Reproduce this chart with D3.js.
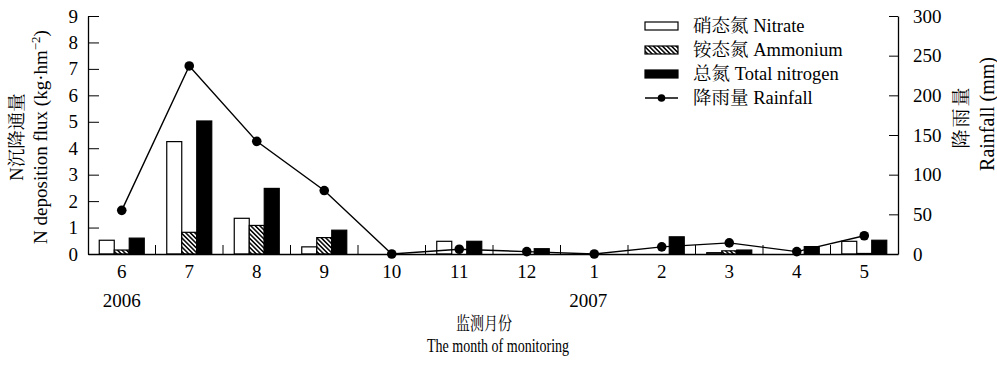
<!DOCTYPE html>
<html>
<head>
<meta charset="utf-8">
<script src="https://cdn.jsdelivr.net/npm/d3@7"></script>
<style>
  html, body { margin: 0; padding: 0; background: #fff; }
  svg { display: block; }
  text { fill: #000; }
</style>
</head>
<body>
<svg id="chart" width="997" height="369"></svg>
<script>
// ---------- data ----------
const months = ["6", "7", "8", "9", "10", "11", "12", "1", "2", "3", "4", "5"];
const yearLabels = ["2006", "2007"];
const yearAt = ["6", "1"];
const nitrate  = [0.52, 4.25, 1.35, 0.27, 0, 0.48, 0, 0, 0, 0.05, 0, 0.48];
const ammonium = [0.15, 0.82, 1.08, 0.62, 0, 0, 0, 0, 0, 0.12, 0, 0.02];
const totalN   = [0.60, 5.03, 2.48, 0.90, 0, 0.48, 0.20, 0, 0.65, 0.15, 0.28, 0.52];
const rainfall = [55, 237, 142, 80, 0, 6, 3, 0, 9, 14, 3, 23];
const leftTicks = [0, 1, 2, 3, 4, 5, 6, 7, 8, 9];
const rightTicks = [0, 50, 100, 150, 200, 250, 300];
const seriesKeys = ["nitrate", "ammonium", "total"];
const legendLabels = ["硝态氮 Nitrate", "铵态氮 Ammonium", "总氮 Total nitrogen", "降雨量 Rainfall"];

// ---------- setup ----------
const FONT = "'Liberation Serif','Times New Roman','Noto Serif CJK SC','Noto Sans CJK SC',serif";
const INK = "#000";
const svg = d3.select("#chart").style("font-family", FONT);

const x = d3.scaleBand().domain(months).range([88, 898]).padding(0);
const xs = d3.scaleBand().domain(seriesKeys).range([0, x.bandwidth()]).paddingInner(0).paddingOuter(0.75);
const yL = d3.scaleLinear().domain([0, 9]).range([254, 16]);
const yR = d3.scaleLinear().domain([0, 300]).range([254, 16]);

// hatch pattern
const defs = svg.append("defs");
const pat = defs.append("pattern")
  .attr("id", "hatch").attr("patternUnits", "userSpaceOnUse")
  .attr("width", 3.2).attr("height", 3.2)
  .attr("patternTransform", "rotate(-45)");
pat.append("rect").attr("width", 3.2).attr("height", 3.2).attr("fill", "#fff");
pat.append("rect").attr("x", 0).attr("width", 1.5).attr("height", 3.2).attr("fill", INK);

// ---------- bars ----------
const rows = months.map((m, i) => ({
  month: m,
  values: [
    { key: "nitrate", v: nitrate[i] },
    { key: "ammonium", v: ammonium[i] },
    { key: "total", v: totalN[i] }
  ]
}));
const fillFor = { nitrate: "#fff", ammonium: "url(#hatch)", total: INK };

const gBars = svg.append("g");
gBars.selectAll("g.grp").data(rows).join("g")
  .attr("class", "grp")
  .attr("transform", d => `translate(${x(d.month)},0)`)
  .selectAll("rect").data(d => d.values.filter(v => v.v > 0)).join("rect")
  .attr("x", d => xs(d.key))
  .attr("width", xs.bandwidth())
  .attr("y", d => yL(d.v))
  .attr("height", d => yL(0) - yL(d.v))
  .attr("fill", d => fillFor[d.key])
  .attr("stroke", INK)
  .attr("stroke-width", 1.2);

// ---------- axes ----------
const axisL = d3.axisLeft(yL).tickValues(leftTicks).tickSizeInner(-11).tickSizeOuter(0).tickPadding(10);
const gL = svg.append("g").attr("transform", "translate(88,0)").call(axisL);
const axisR = d3.axisRight(yR).tickValues(rightTicks).tickSizeInner(-9).tickSizeOuter(0).tickPadding(15);
const gR = svg.append("g").attr("transform", "translate(898,0)").call(axisR);
const axisB = d3.axisBottom(x).tickSize(0).tickPadding(11);
const gB = svg.append("g").attr("transform", "translate(0,254)").call(axisB);

[gL, gR, gB].forEach(g => {
  g.select(".domain").attr("stroke", INK).attr("stroke-width", 1.3);
  g.selectAll(".tick line").attr("stroke", INK).attr("stroke-width", 1);
  g.selectAll(".tick text").attr("fill", INK).style("font-size", "19px").style("font-family", FONT);
});

// category boundary ticks (inward)
svg.append("g").selectAll("line").data(months.slice(1)).join("line")
  .attr("x1", d => x(d)).attr("x2", d => x(d))
  .attr("y1", yL(0)).attr("y2", yL(0) - 9)
  .attr("stroke", INK).attr("stroke-width", 1);

// year labels
svg.append("g").selectAll("text").data(yearLabels).join("text")
  .attr("x", (d, i) => x(yearAt[i]) + x.bandwidth() / 2 + (i === 1 ? -6 : 0))
  .attr("y", 307)
  .attr("text-anchor", "middle")
  .style("font-size", "19px")
  .text(d => d);

// ---------- rainfall line ----------
const lineGen = d3.line()
  .x((d, i) => x(months[i]) + x.bandwidth() / 2)
  .y(d => yR(d));
svg.append("path").datum(rainfall)
  .attr("d", lineGen)
  .attr("fill", "none").attr("stroke", INK).attr("stroke-width", 1.4);
svg.append("g").selectAll("circle").data(rainfall).join("circle")
  .attr("cx", (d, i) => x(months[i]) + x.bandwidth() / 2)
  .attr("cy", d => yR(d))
  .attr("r", 4.8)
  .attr("fill", INK);

// ---------- axis titles ----------
const cxAxis = (x.range()[0] + x.range()[1]) / 2;
svg.append("text").attr("transform", `translate(${cxAxis - 9},330) scale(0.78,1)`)
  .attr("text-anchor", "middle").style("font-size", "18px").text("监测月份");
svg.append("text").attr("transform", `translate(${cxAxis + 5},352) scale(0.78,1)`)
  .attr("text-anchor", "middle").style("font-size", "18px").text("The month of monitoring");

// left title (two rotated lines)
svg.append("text")
  .attr("transform", "translate(17,137) rotate(-90)")
  .attr("text-anchor", "middle").attr("dy", "0.35em")
  .style("font-size", "18.5px").text("N沉降通量");
const t2 = svg.append("text")
  .attr("transform", "translate(40,137) rotate(-90)")
  .attr("text-anchor", "middle").attr("dy", "0.35em")
  .style("font-size", "19px");
t2.append("tspan").text("N deposition flux (kg·hm");
t2.append("tspan").attr("dy", -7).style("font-size", "13px").text("−2");
t2.append("tspan").attr("dy", 7).text(")");

// right title
svg.append("text")
  .attr("transform", "translate(961,117) rotate(-90)")
  .attr("text-anchor", "middle").attr("dy", "0.35em")
  .style("font-size", "19px").attr("letter-spacing", "2px").text("降雨量");
svg.append("text")
  .attr("transform", "translate(987,114) rotate(-90)")
  .attr("text-anchor", "middle").attr("dy", "0.35em")
  .style("font-size", "20px").text("Rainfall (mm)");

// ---------- legend ----------
const legY = [26, 50, 74, 98];
const leg = svg.append("g");
const swX = 645, swW = 33;
legendLabels.forEach((lab, i) => {
  const g = leg.append("g").attr("transform", `translate(0,${legY[i]})`);
  if (i < 3) {
    g.append("rect").attr("x", swX).attr("y", -4).attr("width", swW).attr("height", 8)
      .attr("fill", fillFor[seriesKeys[i]]).attr("stroke", INK).attr("stroke-width", 1.2);
  } else {
    g.append("line").attr("x1", swX).attr("x2", swX + swW).attr("y1", 0).attr("y2", 0)
      .attr("stroke", INK).attr("stroke-width", 1.4);
    g.append("circle").attr("cx", swX + swW / 2).attr("cy", 0).attr("r", 3.8).attr("fill", INK);
  }
  g.append("text").attr("x", 693).attr("y", 0).attr("dy", "0.35em")
    .style("font-size", "18.5px").text(lab);
});
</script>
</body>
</html>
